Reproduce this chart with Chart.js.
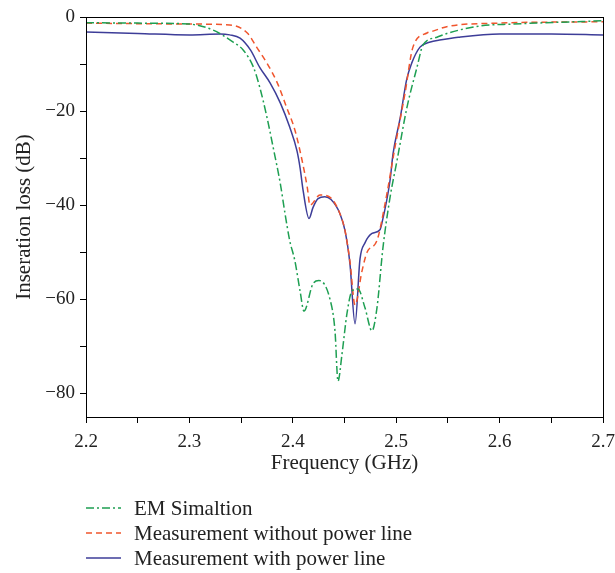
<!DOCTYPE html>
<html>
<head>
<meta charset="utf-8">
<script src="https://cdn.jsdelivr.net/npm/chart.js@4.4.1/dist/chart.umd.min.js"></script>
<style>
  html, body { margin: 0; padding: 0; background: #fff; }
  #chart { display: block; }
</style>
</head>
<body>
<canvas id="chart" width="615" height="573"></canvas>
<script>
// EM simulation (green dash-dot)
var emFreq = [2.200, 2.250, 2.300, 2.323, 2.342, 2.352, 2.362, 2.368, 2.375, 2.381, 2.388, 2.3925,
  2.397, 2.402, 2.407, 2.4108, 2.4195, 2.4253, 2.436, 2.4408, 2.4437, 2.4476, 2.4524, 2.4573,
  2.4631, 2.4698, 2.4766, 2.4814, 2.4872, 2.494, 2.5008, 2.5104, 2.5201, 2.5259, 2.5395, 2.549,
  2.581, 2.613, 2.700];
var emLoss = [-1.2, -1.3, -1.5, -2.8, -5.3, -7.0, -10.7, -14.9, -21.3, -27.7, -35.5, -41.8,
  -47.5, -51.8, -58.2, -62.5, -56.7, -56.0, -60.0, -66.7, -77.4, -71.6, -63.0, -58.2,
  -57.8, -61.8, -66.7, -61.8, -49.0, -38.4, -30.5, -19.2, -10.7, -6.0, -4.3, -3.5,
  -1.9, -1.5, -0.8];

// measurement without power line (red dashed)
var woFreq = [2.200, 2.300, 2.339, 2.356, 2.365, 2.375, 2.385, 2.394, 2.402, 2.409, 2.414, 2.4166,
  2.4263, 2.437, 2.4456, 2.4505, 2.4553, 2.4602, 2.4669, 2.4718, 2.4814, 2.4892, 2.4988, 2.5085,
  2.5162, 2.5298, 2.5356, 2.550, 2.600, 2.700];
var woLoss = [-1.3, -1.5, -1.7, -3.4, -6.4, -9.8, -14.0, -19.2, -24.0, -30.5, -36.2, -40.0,
  -37.8, -38.5, -41.8, -45.4, -52.0, -61.2, -54.0, -50.0, -47.5, -39.7, -27.7, -16.2,
  -6.4, -3.4, -3.0, -2.0, -1.3, -1.0];

// measurement with power line (blue solid)
var wFreq = [2.200, 2.250, 2.300, 2.330, 2.339, 2.349, 2.359, 2.368, 2.378, 2.388, 2.397, 2.404,
  2.407, 2.410, 2.4157, 2.4195, 2.4244, 2.431, 2.437, 2.4456, 2.4505, 2.4553, 2.4602, 2.465,
  2.4698, 2.4766, 2.4843, 2.4863, 2.494, 2.497, 2.504, 2.510, 2.515, 2.523, 2.533, 2.542,
  2.560, 2.600, 2.650, 2.700];
var wLoss = [-3.2, -3.5, -3.8, -3.6, -3.8, -4.5, -7.0, -10.7, -14.0, -18.3, -23.4, -28.4,
  -32.0, -36.9, -42.8, -40.5, -38.6, -38.2, -38.8, -41.8, -45.4, -52.5, -65.2, -51.4,
  -48.0, -46.0, -45.2, -43.7, -34.8, -29.0, -21.3, -13.4, -9.8, -6.4, -5.3, -4.9,
  -4.3, -3.6, -3.6, -3.8];

var seriesNames = ["EM Simaltion", "Measurement without power line", "Measurement with power line"];
var xTicks = [2.2, 2.25, 2.3, 2.35, 2.4, 2.45, 2.5, 2.55, 2.6, 2.65, 2.7];
var yTicks = [-80, -70, -60, -50, -40, -30, -20, -10, 0];

var FONT = "'Liberation Serif', 'DejaVu Serif', serif";
var colors = ["#1e9f52", "#f0552d", "#3d3d98"];
var dashes = [[8, 3, 2, 3], [6, 4], []];

function toPoints(xs, ys) {
  return xs.map(function (x, i) { return { x: x, y: ys[i] }; });
}

// box round the plot
var framePlugin = {
  id: "frame",
  afterDraw: function (chart) {
    var a = chart.chartArea, ctx = chart.ctx;
    ctx.save();
    ctx.strokeStyle = "#000";
    ctx.lineWidth = 1;
    ctx.strokeRect(Math.round(a.left) + 0.5, Math.round(a.top) + 0.5,
      Math.round(a.right - a.left), Math.round(a.bottom - a.top));
    ctx.restore();
  },
};

// legend stacked below the chart
var legendPlugin = {
  id: "stackLegend",
  afterDraw: function (chart) {
    var ctx = chart.ctx;
    var x0 = chart.chartArea.left;
    var y0 = 508;
    ctx.save();
    ctx.font = "21px " + FONT;
    ctx.textBaseline = "middle";
    chart.data.datasets.forEach(function (ds, i) {
      var y = y0 + i * 25;
      ctx.strokeStyle = ds.borderColor;
      ctx.lineWidth = 1.5;
      ctx.setLineDash(ds.borderDash || []);
      ctx.beginPath();
      ctx.moveTo(x0, y);
      ctx.lineTo(x0 + 35, y);
      ctx.stroke();
      ctx.setLineDash([]);
      ctx.fillStyle = "#222";
      ctx.fillText(ds.label, x0 + 48, y + 1);
    });
    ctx.restore();
  },
};

new Chart(document.getElementById("chart").getContext("2d"), {
  type: "line",
  data: {
    datasets: [
      { label: seriesNames[0], data: toPoints(emFreq, emLoss) },
      { label: seriesNames[1], data: toPoints(woFreq, woLoss) },
      { label: seriesNames[2], data: toPoints(wFreq, wLoss) },
    ].map(function (ds, i) {
      ds.borderColor = colors[i];
      ds.borderDash = dashes[i];
      ds.borderWidth = 1.5;
      ds.pointRadius = 0;
      ds.fill = false;
      ds.cubicInterpolationMode = "monotone";
      return ds;
    }),
  },
  options: {
    responsive: false,
    animation: false,
    devicePixelRatio: 1,
    layout: { padding: { top: 17, right: 12, bottom: 99, left: 0 } },
    plugins: { legend: { display: false }, tooltip: { enabled: false } },
    scales: {
      x: {
        type: "linear",
        min: 2.2,
        max: 2.7,
        afterBuildTicks: function (scale) {
          scale.ticks = xTicks.map(function (v) { return { value: v }; });
        },
        afterFit: function (scale) {
          scale.paddingRight = 0;
          scale.height = 57;
        },
        ticks: {
          autoSkip: false,
          maxRotation: 0,
          color: "#222",
          font: { family: FONT, size: 19, lineHeight: 1 },
          padding: 10,
          callback: function (v) {
            var k = Math.round(v * 100);
            return k % 10 === 0 ? v.toFixed(1) : "";
          },
        },
        grid: { drawOnChartArea: false, color: "#000", tickLength: 6 },
        border: { color: "#000", width: 1 },
        title: {
          display: true,
          text: "Frequency (GHz)",
          color: "#222",
          font: { family: FONT, size: 21, lineHeight: 1 },
          padding: { top: 0, bottom: 0 },
        },
      },
      y: {
        min: -85,
        max: 0,
        afterBuildTicks: function (scale) {
          scale.ticks = yTicks.map(function (v) { return { value: v }; });
        },
        afterFit: function (scale) {
          scale.width = 86;
        },
        ticks: {
          autoSkip: false,
          color: "#222",
          font: { family: FONT, size: 19 },
          padding: 5,
          callback: function (v) {
            if (v % 20 !== 0) return "";
            return v < 0 ? "\u2212" + Math.abs(v) : String(v);
          },
        },
        grid: { drawOnChartArea: false, color: "#000", tickLength: 6 },
        border: { color: "#000", width: 1 },
        title: {
          display: true,
          text: "Inseration loss (dB)",
          color: "#222",
          font: { family: FONT, size: 21 },
          padding: { top: 12, bottom: 0 },
        },
      },
    },
  },
  plugins: [framePlugin, legendPlugin],
});
</script>
</body>
</html>
